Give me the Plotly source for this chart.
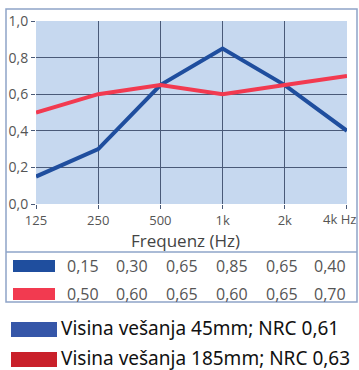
import plotly.graph_objects as go

freqs = [125, 250, 500, 1000, 2000, 4000]
freq_labels = ["125", "250", "500", "1k", "2k", ""]
last_label = "4k Hz"
alpha_45 = [0.15, 0.30, 0.65, 0.85, 0.65, 0.40]
alpha_185 = [0.50, 0.60, 0.65, 0.60, 0.65, 0.70]
legend_labels = ["Visina vešanja 45mm; NRC 0,61", "Visina vešanja 185mm; NRC 0,63"]

W, H = 359, 370
px = lambda v: v / W
py = lambda v: 1 - v / H

line_blue = "#1f4e9e"
line_red = "#f23a50"
swatch_blue = "#3556a8"
swatch_red = "#c9202a"
frame = "#8ea4c8"

fig = go.Figure()
fig.add_trace(go.Scatter(x=freqs, y=alpha_45, mode="lines",
                         line=dict(color=line_blue, width=4), showlegend=False))
fig.add_trace(go.Scatter(x=freqs, y=alpha_185, mode="lines",
                         line=dict(color=line_red, width=4), showlegend=False))

fig.update_layout(
    width=W, height=H, autosize=False,
    margin=dict(l=0, r=0, t=0, b=0, autoexpand=False),
    paper_bgcolor="white", plot_bgcolor="#c6d8ef",
    font=dict(family="Open Sans", color="#555555"),
    xaxis=dict(type="log", domain=[px(36), px(347)],
               range=[2.0969, 3.60215],
               tickvals=freqs, ticktext=freq_labels,
               showgrid=True, gridcolor="#4a5a78", gridwidth=1,
               ticks="outside", ticklen=4, tickcolor="#4a5a78",
               tickfont=dict(size=13, color="#555555"),
               zeroline=False, showline=False, automargin=False),
    yaxis=dict(domain=[py(204), py(21)], range=[0, 1.0],
               tickvals=[0, 0.2, 0.4, 0.6, 0.8, 1.0],
               ticktext=["0,0", "0,2", "0,4", "0,6", "0,8", "1,0"],
               showgrid=True, gridcolor="#4a5a78", gridwidth=1,
               ticks="outside", ticklen=4, tickcolor="#4a5a78",
               tickfont=dict(size=14, color="#555555"),
               zeroline=False, showline=False, automargin=False),
)

shapes = []
# outer frame and table separator
shapes.append(dict(type="rect", xref="paper", yref="paper",
                   x0=px(6), x1=px(357), y0=py(302), y1=py(9),
                   line=dict(color=frame, width=1.5)))
shapes.append(dict(type="line", xref="paper", yref="paper",
                   x0=px(6), x1=px(357), y0=py(252), y1=py(252),
                   line=dict(color=frame, width=1.5)))
# table swatches
shapes.append(dict(type="rect", xref="paper", yref="paper",
                   x0=px(13), x1=px(55), y0=py(272), y1=py(260),
                   fillcolor=line_blue, line=dict(width=0)))
shapes.append(dict(type="rect", xref="paper", yref="paper",
                   x0=px(13), x1=px(55), y0=py(300), y1=py(288),
                   fillcolor=line_red, line=dict(width=0)))
# legend swatches
shapes.append(dict(type="rect", xref="paper", yref="paper",
                   x0=px(11), x1=px(57), y0=py(337), y1=py(322),
                   fillcolor=swatch_blue, line=dict(width=0)))
shapes.append(dict(type="rect", xref="paper", yref="paper",
                   x0=px(11), x1=px(57), y0=py(367), y1=py(352),
                   fillcolor=swatch_red, line=dict(width=0)))
fig.update_layout(shapes=shapes)

ann = []
# last x tick label, pulled left so it stays inside the frame
ann.append(dict(text=last_label, xref="x", yref="paper",
                x=3.60206, y=py(219), xanchor="right", yanchor="middle",
                xshift=11, showarrow=False,
                font=dict(size=13, color="#555555")))
ann.append(dict(text="Frequenz (Hz)", xref="paper", yref="paper",
                x=px(186), y=py(240), xanchor="center", yanchor="middle",
                showarrow=False, font=dict(size=17, color="#444444")))
col_x = [83, 132, 182, 232, 282, 330]
for row_y, vals in [(266, alpha_45), (294, alpha_185)]:
    for cx, v in zip(col_x, vals):
        ann.append(dict(text=f"{v:.2f}".replace(".", ","), xref="paper", yref="paper",
                        x=px(cx), y=py(row_y), xanchor="center", yanchor="middle",
                        showarrow=False, font=dict(size=16, color="#555555")))
for ly, label in [(328, legend_labels[0]), (358, legend_labels[1])]:
    ann.append(dict(text=label, xref="paper", yref="paper",
                    x=px(59), y=py(ly), xanchor="left", yanchor="middle",
                    showarrow=False,
                    font=dict(size=19, color="#111111", family="Noto Sans")))
fig.update_layout(annotations=ann)

fig.write_html("out.html", config={"displayModeBar": False},
               post_script="document.body.style.margin='0px';")
